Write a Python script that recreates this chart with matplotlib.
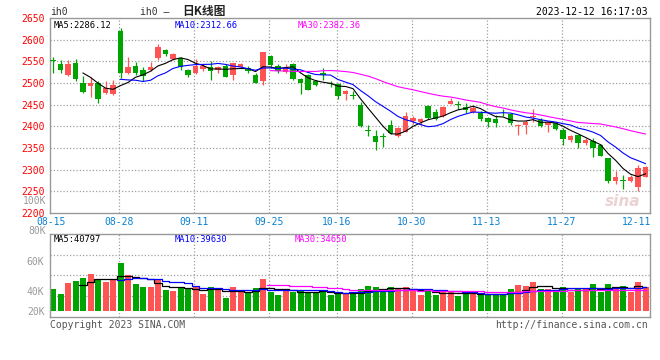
import matplotlib
matplotlib.use("Agg")
import matplotlib.pyplot as plt
import numpy as np
import pandas as pd

# daily K-line of ih0, 2023-08-15 .. 2023-12-12 (80 trading days)
opens = [2552, 2543, 2519, 2545, 2501, 2492, 2499, 2477, 2474, 2621,
         2523, 2540, 2529, 2529, 2557, 2575, 2556, 2558, 2529, 2522,
         2533, 2538, 2529, 2540, 2519, 2538, 2535, 2519, 2504, 2563,
         2539, 2525, 2544, 2510, 2519, 2504, 2524, 2501, 2498, 2475,
         2472, 2450, 2391, 2377, 2378, 2404, 2377, 2387, 2413, 2411,
         2448, 2432, 2423, 2452, 2451, 2444, 2434, 2431, 2419, 2417,
         2434, 2429, 2400, 2404, 2423, 2415, 2402, 2407, 2392, 2369,
         2379, 2361, 2367, 2356, 2327, 2275, 2276, 2273, 2260, 2284]
highs = [2561, 2554, 2553, 2555, 2517, 2513, 2504, 2504, 2506, 2628,
         2561, 2548, 2538, 2549, 2589, 2578, 2570, 2560, 2532, 2556,
         2544, 2550, 2539, 2545, 2547, 2546, 2540, 2522, 2572, 2564,
         2545, 2544, 2546, 2511, 2520, 2507, 2535, 2504, 2501, 2484,
         2482, 2457, 2404, 2392, 2385, 2415, 2398, 2433, 2424, 2419,
         2449, 2440, 2447, 2465, 2458, 2453, 2450, 2435, 2422, 2427,
         2441, 2431, 2405, 2415, 2440, 2419, 2413, 2409, 2396, 2380,
         2380, 2373, 2373, 2359, 2328, 2298, 2288, 2288, 2311, 2308]
lows = [2524, 2523, 2516, 2504, 2477, 2467, 2455, 2475, 2473, 2512,
        2521, 2519, 2504, 2527, 2552, 2562, 2552, 2530, 2513, 2520,
        2528, 2508, 2524, 2513, 2508, 2534, 2522, 2499, 2496, 2535,
        2522, 2523, 2508, 2475, 2483, 2492, 2508, 2490, 2463, 2461,
        2462, 2398, 2377, 2346, 2353, 2383, 2375, 2386, 2406, 2404,
        2416, 2415, 2421, 2451, 2439, 2430, 2430, 2412, 2398, 2398,
        2424, 2404, 2381, 2383, 2411, 2399, 2388, 2392, 2356, 2363,
        2350, 2357, 2330, 2331, 2269, 2267, 2255, 2271, 2250, 2282]
closes = [2550, 2531, 2545, 2510, 2479, 2500, 2464, 2488, 2496, 2522,
          2536, 2524, 2516, 2538, 2583, 2566, 2567, 2536, 2519, 2540,
          2540, 2527, 2536, 2515, 2546, 2543, 2527, 2501, 2571, 2541,
          2528, 2537, 2510, 2501, 2485, 2495, 2518, 2497, 2469, 2481,
          2470, 2401, 2389, 2365, 2376, 2384, 2396, 2423, 2420, 2417,
          2420, 2417, 2444, 2459, 2450, 2437, 2442, 2417, 2409, 2408,
          2432, 2408, 2404, 2409, 2424, 2401, 2411, 2394, 2371, 2377,
          2361, 2369, 2350, 2332, 2275, 2283, 2274, 2284, 2304, 2307]
# volume in thousands
volumes = [41.3, 38.0, 45.6, 46.7, 48.9, 51.6, 47.3, 46.0, 47.8, 58.9,
           50.7, 44.7, 42.7, 42.7, 47.3, 40.7, 40.0, 42.4, 41.1, 42.4,
           38.0, 42.7, 41.1, 35.3, 42.4, 39.6, 39.6, 42.0, 48.0, 39.6,
           37.3, 40.0, 39.6, 40.7, 39.6, 38.4, 40.7, 37.3, 38.4, 37.8,
           38.0, 41.1, 43.3, 42.9, 41.1, 42.7, 41.3, 42.7, 40.2, 37.3,
           40.2, 37.3, 40.0, 40.0, 36.7, 38.4, 38.0, 38.0, 37.3, 37.3,
           38.0, 41.1, 43.8, 43.3, 46.0, 41.3, 41.3, 39.6, 42.7, 39.6,
           41.1, 41.3, 44.9, 39.6, 44.4, 42.7, 43.1, 39.6, 46.0, 42.7]

dates = ["08-15", "08-28", "09-11", "09-25", "10-16", "10-30", "11-13", "11-27", "12-11"]
date_idx = [0, 9, 19, 29, 38, 48, 58, 68, 78]

price_ticks = [2200, 2250, 2300, 2350, 2400, 2450, 2500, 2550, 2600, 2650]

RED = "#ff5454"
GREEN = "#00a400"
GRID = "#a0a0a0"
DOT = (0, (1, 1.6))
MONO = "DejaVu Sans Mono"

n = len(closes)
x = np.arange(n)
o = np.array(opens)
c = np.array(closes)
up = c >= o
col = np.where(up, RED, GREEN)

s = pd.Series(closes, dtype=float)
ma5, ma10, ma30 = s.rolling(5).mean(), s.rolling(10).mean(), s.rolling(30).mean()
v = pd.Series(volumes)
vma5, vma10, vma30 = v.rolling(5).mean(), v.rolling(10).mean(), v.rolling(30).mean()

fig = plt.figure(figsize=(6.6, 3.6), dpi=100)
W, H = 660.0, 360.0
ax = fig.add_axes([50 / W, 1 - 213 / H, 600 / W, 195 / H])
axv = fig.add_axes([50 / W, 1 - 317 / H, 600 / W, 83 / H])

for a in (ax, axv):
    a.set_xlim(-0.4, n - 0.4)
    for sp in a.spines.values():
        sp.set_color("#999999")
        sp.set_linewidth(1)
    for i in date_idx[1:-1]:
        a.axvline(i - 0.2, color=GRID, lw=0.9, ls=DOT, zorder=0)
    a.set_xticks([])

# price panel
ax.set_ylim(2200, 2650)
for p in price_ticks[1:-1]:
    ax.axhline(p, color=GRID, lw=0.9, ls=DOT, zorder=0)
ax.set_yticks(price_ticks)
ax.set_yticklabels([str(p) for p in price_ticks], family=MONO, fontsize=7, color="#ff0000")
ax.tick_params(axis="y", length=0, pad=4)

ax.vlines(x, lows, highs, colors=col, lw=0.9, zorder=2)
body = np.maximum(np.abs(c - o), 2.0)
ax.bar(x, body, bottom=np.minimum(o, c) - np.where(np.abs(c - o) < 2, 1, 0),
       width=0.78, color=col, lw=0, zorder=3)

ax.plot(x, ma5, color="black", lw=0.8, zorder=4)
ax.plot(x, ma10, color="#0000ff", lw=0.8, zorder=4)
ax.plot(x, ma30, color="#ff00ff", lw=0.8, zorder=4)

ax.text(0.006, 0.985, "MA5:2286.12", transform=ax.transAxes, family=MONO, fontsize=6.3,
        color="black", va="top")
ax.text(0.208, 0.985, "MA10:2312.66", transform=ax.transAxes, family=MONO, fontsize=6.3,
        color="#0000ff", va="top")
ax.text(0.413, 0.985, "MA30:2382.36", transform=ax.transAxes, family=MONO, fontsize=6.3,
        color="#ff00ff", va="top")
ax.text(0.955, 0.06, "sina", transform=ax.transAxes, fontsize=11, style="italic",
        weight="bold", color="#e8c8c8", alpha=0.8, ha="center", va="center", zorder=1)

# date labels between panels
for lab, i in zip(dates, date_idx):
    ax.text(i - 0.2, -0.02, lab, transform=ax.get_xaxis_transform(), family=MONO,
            fontsize=7, color="#0a80d0", ha="center", va="top", clip_on=False)

# volume panel
vbase = 40 - 20 / 1.5
axv.set_ylim(40 - 26 / 1.5, 40 + 57 / 1.5)
for f in (0.253, 0.506, 0.747):
    axv.plot([0, 1], [f, f], transform=axv.transAxes, color=GRID, lw=0.9,
             ls=DOT, zorder=0)
axv.bar(x, np.array(volumes) - vbase, bottom=vbase, width=0.8, color=col, lw=0, zorder=2)
axv.plot(x, vma5, color="black", lw=0.9, drawstyle="steps-mid", zorder=3)
axv.plot(x, vma10, color="#0000ff", lw=0.9, drawstyle="steps-mid", zorder=3)
axv.plot(x, vma30, color="#ff00ff", lw=0.9, drawstyle="steps-mid", zorder=3)
axv.set_yticks([vbase, 40, 60])
axv.set_yticklabels(["20K", "40K", "60K"], family=MONO, fontsize=7, color="#9a9a9a")
axv.tick_params(axis="y", length=0, pad=4)
for val, lab in ((80, "80K"), (100, "100K")):
    axv.text(-4 / 600, val, lab, transform=axv.get_yaxis_transform(), family=MONO,
             fontsize=7, color="#9a9a9a", ha="right", va="center", clip_on=False)

axv.text(0.006, 0.985, "MA5:40797", transform=axv.transAxes, family=MONO, fontsize=6.3,
         color="black", va="top")
axv.text(0.208, 0.985, "MA10:39630", transform=axv.transAxes, family=MONO, fontsize=6.3,
         color="#0000ff", va="top")
axv.text(0.408, 0.985, "MA30:34650", transform=axv.transAxes, family=MONO, fontsize=6.3,
         color="#ff00ff", va="top")

# header / footer
fig.text(50 / W, 1 - 12 / H, "ih0", family=MONO, fontsize=7, color="#333333", va="center")
fig.text(140 / W, 1 - 12 / H, "ih0 \u2013", family=MONO, fontsize=7, color="#333333", va="center")
fig.text(182 / W, 1 - 12 / H, "日K线图", family=["Noto Sans CJK SC", "DejaVu Sans"],
         fontsize=8.5, weight="bold", color="#222222", va="center")
fig.text(648 / W, 1 - 12 / H, "2023-12-12 16:17:03", family=MONO, fontsize=7,
         color="black", ha="right", va="center")
fig.text(50 / W, 1 - 325 / H, "Copyright 2023 SINA.COM", family=MONO, fontsize=7,
         color="#555555", va="center")
fig.text(648 / W, 1 - 325 / H, "http://finance.sina.com.cn", family=MONO, fontsize=7,
         color="#555555", ha="right", va="center")

fig.savefig("out.png", dpi=100, facecolor="white")
